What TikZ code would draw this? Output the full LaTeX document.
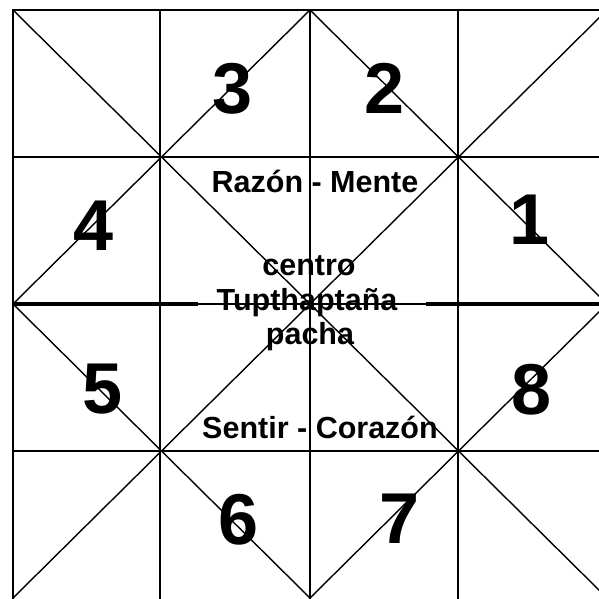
\documentclass[tikz,border=0pt]{standalone}
\usepackage{fontspec}
\setmainfont{Liberation Sans}
\begin{document}
\begin{tikzpicture}[x=1pt,y=-1pt,
  gridline/.style={line width=1.4pt,black},
  border/.style={line width=2.2pt,black},
  heavy/.style={line width=4pt,black},
  digit/.style={inner sep=0pt,anchor=center,font=\fontsize{72}{72}\selectfont\bfseries},
  label/.style={inner sep=0pt,anchor=base,font=\fontsize{30.5}{34}\selectfont\bfseries}]
\useasboundingbox (0,0) rectangle (599,599);
\clip (0,0) rectangle (599,599);
\fill[white] (0,0) rectangle (599,599);
% grid
\foreach \x in {160,310,458} \draw[gridline] (\x,10) -- (\x,610);
\foreach \y in {157,451} \draw[gridline] (13,\y) -- (610,\y);
\draw[gridline] (13,304) -- (610,304);
\draw[border] (13,610) -- (13,10) -- (610,10);
% thick parts of middle line
\draw[heavy] (13,304) -- (198,304);
\draw[heavy] (426,304) -- (610,304);
% diagonals
\draw[gridline] (13,10) -- (607,598);
\draw[gridline] (607,10) -- (13,598);
% diamond
\draw[gridline] (310,10) -- (607,304) -- (310,598) -- (13,304) -- cycle;
% numbers
\node[digit] (n3) at (233,89) {3};
\node[digit] (n2) at (385,88) {2};
\node[digit] (n4) at (94,226) {4};
\node[digit] (n1) at (530,220) {1};
\node[digit] (n5) at (103,389) {5};
\node[digit] (n8) at (532,390) {8};
\node[digit] (n6) at (239,520) {6};
\node[digit] (n7) at (400,519) {7};
% texts
\node[label] (razon) at (315,192) {Razón - Mente};
\node[label] (centro) at (309,275) {centro};
\node[label] (tup) at (307,310) {Tupthaptaña};
\node[label] (pacha) at (310,344) {pacha};
\node[label] (sentir) at (320,438) {Sentir - Corazón};
\end{tikzpicture}
\end{document}
